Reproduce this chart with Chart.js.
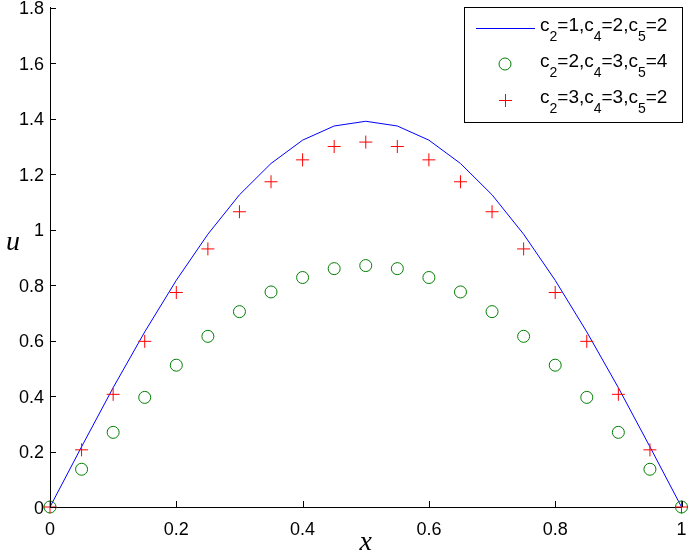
<!DOCTYPE html>
<html>
<head>
<meta charset="utf-8">
<script src="https://cdn.jsdelivr.net/npm/chart.js@4"></script>
<style>
  html, body { margin: 0; padding: 0; background: #fff; }
  #wrap { width: 689px; height: 554px; }
</style>
</head>
<body>
<div id="wrap"><canvas id="uChart" width="689" height="554"></canvas></div>
<script>
// grid points along x
const xValues = [0, 0.05, 0.1, 0.15, 0.2, 0.25, 0.3, 0.35, 0.4, 0.45, 0.5,
                 0.55, 0.6, 0.65, 0.7, 0.75, 0.8, 0.85, 0.9, 0.95, 1];

// c2=1,c4=2,c5=2 (solid blue line)
const uBlue = [0, 0.217, 0.430, 0.631, 0.817, 0.983, 1.125, 1.238, 1.322, 1.373, 1.390,
               1.373, 1.322, 1.238, 1.125, 0.983, 0.817, 0.631, 0.430, 0.217, 0];
// c2=2,c4=3,c5=4 (green circles)
const uGreen = [0, 0.136, 0.269, 0.395, 0.511, 0.615, 0.704, 0.775, 0.827, 0.859, 0.870,
                0.859, 0.827, 0.775, 0.704, 0.615, 0.511, 0.395, 0.269, 0.136, 0];
// c2=3,c4=3,c5=2 (red plus)
const uRed = [0, 0.206, 0.406, 0.597, 0.773, 0.930, 1.064, 1.172, 1.251, 1.299, 1.315,
              1.299, 1.251, 1.172, 1.064, 0.930, 0.773, 0.597, 0.406, 0.206, 0];

const yTicks = [0, 0.2, 0.4, 0.6, 0.8, 1, 1.2, 1.4, 1.6, 1.8];
const yTickLabels = ['0', '0.2', '0.4', '0.6', '0.8', '1', '1.2', '1.4', '1.6', '1.8'];
const xTicks = [0, 0.2, 0.4, 0.6, 0.8, 1];
const xTickLabels = ['0', '0.2', '0.4', '0.6', '0.8', '1'];

// legend text pieces: [c2, c4, c5]
const legendParams = [['1', '2', '2'], ['2', '3', '4'], ['3', '3', '2']];

const BLUE = '#0000ff';
const GREEN = '#007f00';
const RED = '#ff0000';
const SANS = '"Liberation Sans", Arial, sans-serif';

const toPoints = ys => xValues.map((x, i) => ({ x: x, y: ys[i] }));

// small inward tick marks, like the original plot
const innerTicks = {
    id: 'innerTicks',
    afterDraw(chart) {
        const { ctx, chartArea, scales } = chart;
        ctx.save();
        ctx.strokeStyle = '#000';
        ctx.lineWidth = 1;
        ctx.beginPath();
        yTicks.forEach(v => {
            const py = Math.round(scales.y.getPixelForValue(v)) + 0.5;
            ctx.moveTo(chartArea.left, py);
            ctx.lineTo(chartArea.left + 6, py);
        });
        xTicks.forEach(v => {
            const px = Math.round(scales.x.getPixelForValue(v)) + 0.5;
            ctx.moveTo(px, chartArea.bottom);
            ctx.lineTo(px, chartArea.bottom - 6);
        });
        ctx.stroke();

        // axis titles in italic serif
        ctx.fillStyle = '#000';
        ctx.font = 'italic 28px "Liberation Serif", "DejaVu Serif", serif';
        ctx.textAlign = 'center';
        ctx.textBaseline = 'alphabetic';
        ctx.fillText('u', 13, 250);
        ctx.fillText('x', (chartArea.left + chartArea.right) / 2, 550);
        ctx.restore();
    }
};

// boxed legend with subscripted labels
const subLegend = {
    id: 'subLegend',
    afterDraw(chart) {
        const ctx = chart.ctx;
        const box = { left: 464, top: 7, right: 682, bottom: 122 };
        ctx.save();
        ctx.fillStyle = '#fff';
        ctx.fillRect(box.left, box.top, box.right - box.left, box.bottom - box.top);
        ctx.strokeStyle = '#000';
        ctx.lineWidth = 1;
        ctx.strokeRect(box.left + 0.5, box.top + 0.5, box.right - box.left, box.bottom - box.top);

        const rows = [28, 64, 100];
        // samples
        ctx.strokeStyle = BLUE;
        ctx.beginPath();
        ctx.moveTo(476, rows[0] + 0.5);
        ctx.lineTo(535, rows[0] + 0.5);
        ctx.stroke();
        ctx.strokeStyle = GREEN;
        ctx.beginPath();
        ctx.arc(505, rows[1], 6, 0, Math.PI * 2);
        ctx.stroke();
        ctx.strokeStyle = RED;
        ctx.beginPath();
        ctx.moveTo(505.5, rows[2] - 6); ctx.lineTo(505.5, rows[2] + 7);
        ctx.moveTo(499, rows[2] + 0.5); ctx.lineTo(512, rows[2] + 0.5);
        ctx.stroke();

        // labels
        ctx.fillStyle = '#000';
        ctx.textBaseline = 'alphabetic';
        ctx.textAlign = 'left';
        const subs = ['2', '4', '5'];
        legendParams.forEach((p, i) => {
            let x = 540;
            const base = rows[i] + 3;
            p.forEach((val, k) => {
                ctx.font = '19px ' + SANS;
                ctx.fillText('c', x, base);
                x += ctx.measureText('c').width;
                ctx.font = '14px ' + SANS;
                ctx.fillText(subs[k], x, base + 10);
                x += ctx.measureText(subs[k]).width;
                ctx.font = '19px ' + SANS;
                const rest = '=' + val + (k < 2 ? ',' : '');
                ctx.fillText(rest, x, base);
                x += ctx.measureText(rest).width;
            });
        });
        ctx.restore();
    }
};

const ctx = document.getElementById('uChart').getContext('2d');
new Chart(ctx, {
    type: 'scatter',
    data: {
        datasets: [
            {
                label: 'c2=1,c4=2,c5=2',
                data: toPoints(uBlue),
                showLine: true,
                borderColor: BLUE,
                borderWidth: 1,
                pointRadius: 0,
                fill: false,
                tension: 0,
                clip: false,
                order: 3
            },
            {
                label: 'c2=2,c4=3,c5=4',
                data: toPoints(uGreen),
                showLine: false,
                pointStyle: 'circle',
                pointRadius: 6,
                pointBorderWidth: 1,
                pointBorderColor: GREEN,
                pointBackgroundColor: 'rgba(0,0,0,0)',
                clip: false,
                order: 2
            },
            {
                label: 'c2=3,c4=3,c5=2',
                data: toPoints(uRed),
                showLine: false,
                pointStyle: 'cross',
                pointRadius: 6.5,
                pointBorderWidth: 1,
                pointBorderColor: RED,
                pointBackgroundColor: 'rgba(0,0,0,0)',
                clip: false,
                order: 1
            }
        ]
    },
    options: {
        responsive: false,
        animation: false,
        events: [],
        layout: { padding: { top: 7, right: 7, left: 0, bottom: 0 } },
        plugins: {
            legend: { display: false },
            tooltip: { enabled: false },
            title: { display: false }
        },
        scales: {
            x: {
                type: 'linear',
                min: 0,
                max: 1,
                afterFit: s => { s.height = 47; s.paddingLeft = 0; s.paddingRight = 0; },
                afterBuildTicks: s => { s.ticks = xTicks.map(v => ({ value: v })); },
                grid: { display: false, drawTicks: false },
                border: { display: true, color: '#000', width: 1 },
                ticks: {
                    color: '#000',
                    font: { family: SANS, size: 18 },
                    padding: 12,
                    maxRotation: 0,
                    callback: (v, i) => xTickLabels[i]
                }
            },
            y: {
                type: 'linear',
                min: 0,
                max: 1.8,
                afterFit: s => { s.width = 50; s.paddingTop = 0; s.paddingBottom = 0; },
                afterBuildTicks: s => { s.ticks = yTicks.map(v => ({ value: v })); },
                grid: { display: false, drawTicks: false },
                border: { display: true, color: '#000', width: 1 },
                ticks: {
                    color: '#000',
                    font: { family: SANS, size: 18 },
                    padding: 6,
                    labelOffset: 2,
                    callback: (v, i) => yTickLabels[i]
                }
            }
        }
    },
    plugins: [innerTicks, subLegend]
});
</script>
</body>
</html>
